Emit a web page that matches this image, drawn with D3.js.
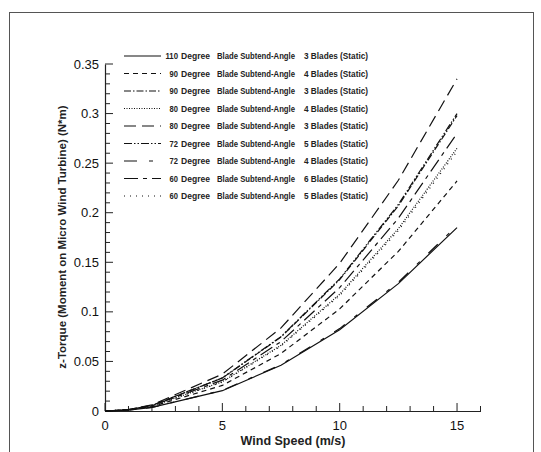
<!DOCTYPE html>
<html><head><meta charset="utf-8">
<script src="https://cdn.jsdelivr.net/npm/d3@7"></script>
<style>body{margin:0;background:#fff}svg{display:block}</style>
</head><body>
<svg id="c" width="541" height="452"></svg>
<script>
const speeds = [0, 1, 2, 5, 7.5, 10, 12.5, 15];
const seriesNames = [
  ["110","3"],["90","4"],["90","3"],["80","4"],["80","3"],["72","5"],["72","4"],["60","6"],["60","5"]
];
const s110_3 = [0, 0.0009, 0.0036, 0.0205, 0.0462, 0.0820, 0.1285, 0.1850];
const s90_4  = [0, 0.0011, 0.0045, 0.0258, 0.0580, 0.1030, 0.1610, 0.2320];
const s90_3  = [0, 0.0013, 0.0056, 0.0332, 0.0746, 0.1325, 0.2070, 0.2980];
const s80_4  = [0, 0.0012, 0.0050, 0.0295, 0.0663, 0.1178, 0.1840, 0.2650];
const s80_3  = [0, 0.0015, 0.0062, 0.0372, 0.0838, 0.1490, 0.2327, 0.3350];
const s72_5  = [0, 0.0014, 0.0057, 0.0334, 0.0750, 0.1333, 0.2083, 0.3000];
const s72_4  = [0, 0.0009, 0.0036, 0.0208, 0.0467, 0.0831, 0.1298, 0.1870];
const s60_6  = [0, 0.0013, 0.0053, 0.0311, 0.0700, 0.1244, 0.1944, 0.2800];
const s60_5  = [0, 0.0012, 0.0049, 0.0291, 0.0655, 0.1164, 0.1819, 0.2620];
const seriesValues = [s110_3, s90_4, s90_3, s80_4, s80_3, s72_5, s72_4, s60_6, s60_5];
const dashes = ["none","5,4","7,2,1.5,2","1,1.5","12,6","8,2,1.5,2,1.5,2","13,12,4,12","14,5,4,5","1,5"];
const xTicks = [0, 5, 10, 15];
const yTicks = [0, 0.05, 0.1, 0.15, 0.2, 0.25, 0.3, 0.35];

const svg = d3.select("#c");
const x = d3.scaleLinear().domain([0, 16]).range([105, 480.5]);
const y = d3.scaleLinear().domain([0, 0.35]).range([411, 64]);
const FONT = "Liberation Sans, Arial, sans-serif";

// outer frame
svg.append("rect").attr("x", 9.5).attr("y", 12.5).attr("width", 524).attr("height", 460)
  .attr("fill", "none").attr("stroke", "#555").attr("stroke-width", 1);

const axisCol = "#222";
// x axis
const gx = svg.append("g").attr("transform", `translate(0,${y(0)})`);
gx.call(d3.axisBottom(x).tickValues(d3.range(0, 17, 1)).tickSize(0).tickFormat(""));
gx.select(".domain").attr("stroke", axisCol).attr("stroke-width", 1.2);
svg.append("g").selectAll("line").data(d3.range(0, 17, 1)).join("line")
  .attr("x1", d => x(d)).attr("x2", d => x(d))
  .attr("y1", y(0)).attr("y2", d => y(0) - (d % 5 === 0 ? 8 : 5))
  .attr("stroke", axisCol).attr("stroke-width", 1);
svg.append("g").selectAll("text").data(xTicks).join("text")
  .attr("x", d => x(d)).attr("y", 430).attr("text-anchor", "middle")
  .attr("font-family", FONT).attr("font-size", 13)
  .attr("fill", "#111").text(d => d);

// y axis
const gy = svg.append("g").attr("transform", `translate(${x(0)},0)`);
gy.call(d3.axisLeft(y).tickValues([]).tickSize(0));
gy.select(".domain").attr("stroke", axisCol).attr("stroke-width", 1.2);
svg.append("g").selectAll("line").data(d3.range(0, 36, 1)).join("line")
  .attr("x1", x(0)).attr("x2", d => x(0) + (d % 5 === 0 ? 8 : 5))
  .attr("y1", d => y(d / 100)).attr("y2", d => y(d / 100))
  .attr("stroke", axisCol).attr("stroke-width", 1);
svg.append("g").selectAll("text").data(yTicks).join("text")
  .attr("x", 99).attr("y", d => y(d) + 4.5).attr("text-anchor", "end")
  .attr("font-family", FONT).attr("font-size", 13)
  .attr("fill", "#111").text(d => d === 0 ? "0" : String(+d.toFixed(2)));

// axis titles
svg.append("text").attr("x", 293).attr("y", 445).attr("text-anchor", "middle")
  .attr("font-family", FONT).attr("font-weight", "bold")
  .attr("font-size", 12.5).attr("fill", "#222").text("Wind Speed (m/s)");
svg.append("text").attr("transform", "translate(66,237) rotate(-90)").attr("text-anchor", "middle")
  .attr("font-family", FONT).attr("font-weight", "bold")
  .attr("font-size", 11.5).attr("fill", "#222").text("z-Torque (Moment on Micro Wind Turbine) (N*m)");

// curves
const line = d3.line().x((d, i) => x(speeds[i])).y(d => y(d));
svg.append("g").selectAll("path").data(seriesValues).join("path")
  .attr("d", d => line(d)).attr("fill", "none").attr("stroke", "#111")
  .attr("stroke-width", 1.2).attr("stroke-dasharray", (d, i) => dashes[i]);

// legend
const lg = svg.append("g");
const ly = i => 56 + i * 17.5;
seriesNames.forEach((s, i) => {
  lg.append("line").attr("x1", 124).attr("x2", 161).attr("y1", ly(i)).attr("y2", ly(i))
    .attr("stroke", "#111").attr("stroke-width", 1.2).attr("stroke-dasharray", dashes[i]);
  const t = lg.append("g").attr("font-family", FONT)
    .attr("font-weight", "bold").attr("font-size", 9).attr("fill", "#222");
  const by = ly(i) + 3.2;
  t.append("text").attr("x", 178).attr("y", by).attr("text-anchor", "end")
    .attr("textLength", s[0].length * 4.2).attr("lengthAdjust", "spacingAndGlyphs").text(s[0]);
  t.append("text").attr("x", 181).attr("y", by)
    .attr("textLength", 29).attr("lengthAdjust", "spacingAndGlyphs").text("Degree");
  t.append("text").attr("x", 217).attr("y", by)
    .attr("textLength", 78).attr("lengthAdjust", "spacingAndGlyphs").text("Blade Subtend-Angle");
  t.append("text").attr("x", 304).attr("y", by)
    .attr("textLength", 64).attr("lengthAdjust", "spacingAndGlyphs").text(s[1] + " Blades (Static)");
});
</script>
</body></html>
